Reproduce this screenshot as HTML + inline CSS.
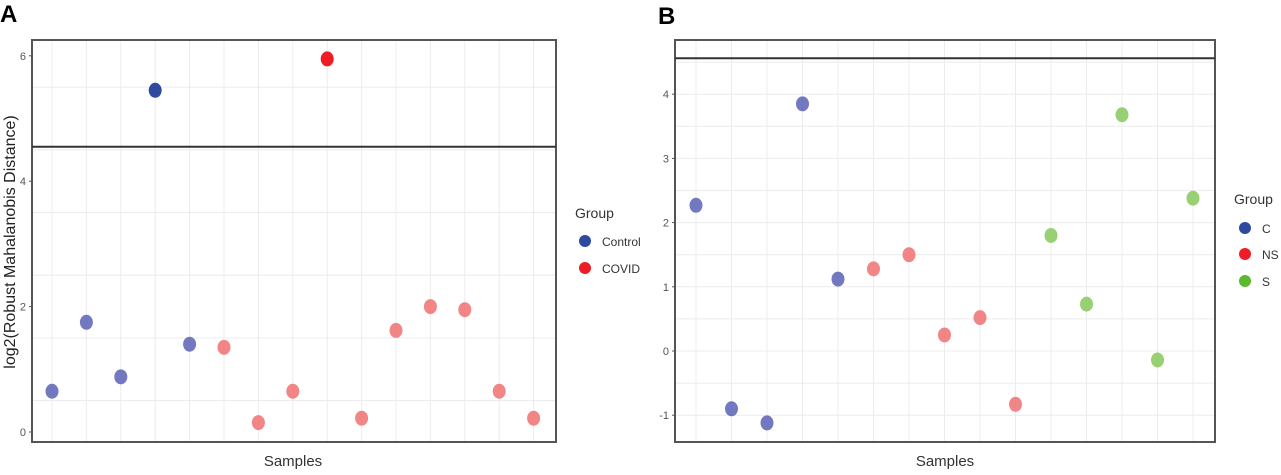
<!DOCTYPE html>
<html><head><meta charset="utf-8"><style>
body{margin:0;background:#fff;}
svg text{font-family:"Liberation Sans",sans-serif;}
</style></head><body>
<svg id="chart" width="1281" height="470" xmlns="http://www.w3.org/2000/svg">
<text x="0" y="22" font-size="24" font-weight="bold">A</text>
<text x="658" y="24" font-size="24" font-weight="bold">B</text>
<g id="pa"></g>
<g id="pb"></g>
<text x="293" y="466" font-size="15" text-anchor="middle" fill="#333">Samples</text>
<text x="945" y="466" font-size="15" text-anchor="middle" fill="#333">Samples</text>
<text transform="translate(15,242) rotate(-90)" font-size="16" text-anchor="middle" fill="#222">log2(Robust Mahalanobis Distance)</text>
<g>
<text x="575" y="218" font-size="14" fill="#333">Group</text>
<circle cx="585" cy="241" r="6" fill="#2e4aa0"/>
<text x="602" y="246" font-size="12" fill="#333">Control</text>
<circle cx="585" cy="268" r="6" fill="#ee1c25"/>
<text x="602" y="273" font-size="12" fill="#333">COVID</text>
</g>
<g>
<text x="1234" y="204" font-size="14" fill="#333">Group</text>
<circle cx="1245" cy="228" r="6" fill="#2e4aa0"/>
<text x="1262" y="233" font-size="12" fill="#333">C</text>
<circle cx="1245" cy="254" r="6" fill="#ee1c25"/>
<text x="1262" y="259" font-size="12" fill="#333">NS</text>
<circle cx="1245" cy="281" r="6" fill="#5cb82e"/>
<text x="1262" y="286" font-size="12" fill="#333">S</text>
</g>
</svg>
<script>
const aValues = [0.65,1.75,0.88,5.45,1.4,1.35,0.15,0.65,5.95,0.22,1.62,2.0,1.95,0.65,0.22];
const aGroups = ['Control','Control','Control','Control','Control','COVID','COVID','COVID','COVID','COVID','COVID','COVID','COVID','COVID','COVID'];
const aTicks = [0,2,4,6];
const aThreshold = 4.55;
const bValues = [2.27,-0.9,-1.12,3.85,1.12,1.28,1.5,0.25,0.52,-0.83,1.8,0.73,3.68,-0.14,2.38];
const bGroups = ['C','C','C','C','C','NS','NS','NS','NS','NS','S','S','S','S','S'];
const bTicks = [-1,0,1,2,3,4];
const bThreshold = 4.56;

const NS='http://www.w3.org/2000/svg';
function mk(parent,tag,attrs){const e=document.createElementNS(NS,tag);for(const k in attrs)e.setAttribute(k,attrs[k]);parent.appendChild(e);return e;}
const light={Control:'#5a62b5',COVID:'#f07070',C:'#5a62b5',NS:'#f07070',S:'#86c95a'};
const dark={Control:'#2e4aa0',COVID:'#ee1c25',C:'#2e4aa0',NS:'#ee1c25',S:'#5cb82e'};

function panel(g,values,groups,ticks,thr,box,y0px,y0,unitPx,x0,dx,name){
  const y=v=>y0px-(v-y0)*unitPx;
  const x=i=>x0+i*dx;
  for(let t=ticks[0]-0.5;t<=ticks[ticks.length-1]+1;t+=(ticks[1]-ticks[0])/2){
    const py=y(t); if(py<box.t||py>box.b)continue;
    const l=mk(g,'line',{x1:box.l,x2:box.r,y1:py,y2:py,stroke:'#ececec','stroke-width':1});
    
    
  }
  values.forEach((v,i)=>{
    const l=mk(g,'line',{x1:x(i),x2:x(i),y1:box.t,y2:box.b,stroke:'#ececec','stroke-width':1});
    
    
  });
  ticks.forEach(t=>{
    const py=y(t);
    const tk=mk(g,'line',{x1:box.l-3,x2:box.l,y1:py,y2:py,stroke:'#555'});
    
    
    const tx=mk(g,'text',{x:box.l-6,y:py+4,'font-size':11,'text-anchor':'end',fill:'#555'});
    tx.textContent=t;
    
    
  });
  const fr=mk(g,'rect',{x:box.l,y:box.t,width:box.r-box.l,height:box.b-box.t,fill:'none',stroke:'#555','stroke-width':2});
  
  
  const th=mk(g,'line',{x1:box.l,x2:box.r,y1:y(thr),y2:y(thr),stroke:'#333','stroke-width':2});
  
  
  values.forEach((v,i)=>{
    const out=v>thr;
    const c=mk(g,'ellipse',{cx:x(i),cy:y(v),rx:6.5,ry:7.5,fill:out?dark[groups[i]]:light[groups[i]],'fill-opacity':out?1:0.85});
    
    
  });
}
panel(document.getElementById('pa'),aValues,aGroups,aTicks,aThreshold,{l:32,r:556,t:40,b:442},432,0,62.7,52,34.4,'panel-a');
panel(document.getElementById('pb'),bValues,bGroups,bTicks,bThreshold,{l:675,r:1215,t:40,b:442},351,0,64.2,696,35.5,'panel-b');
</script>
</body></html>
